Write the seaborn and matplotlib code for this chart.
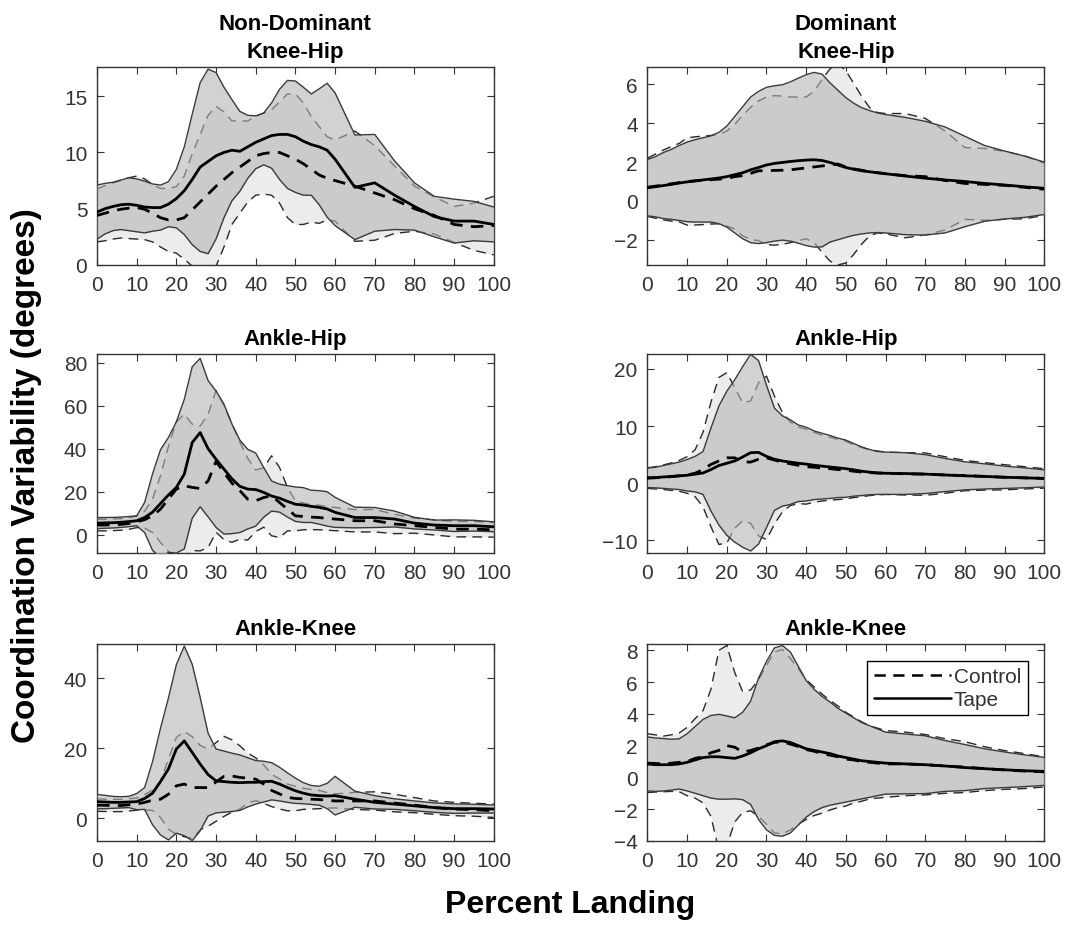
import numpy as np
import matplotlib
matplotlib.use("Agg")
import matplotlib.pyplot as plt
from matplotlib.lines import Line2D
import seaborn as sns

# Percent landing (x)
x_pct = [0, 2, 4, 6, 8, 10, 12, 14, 16, 18, 20, 22, 24, 26, 28, 30, 32, 34, 36, 38,
         40, 42, 44, 46, 48, 50, 52, 54, 56, 58, 60, 65, 70, 75, 80, 85, 90, 95, 100]

# Non-Dominant Knee-Hip
nd_kh_tape_mean = [4.7, 5.0, 5.2, 5.35, 5.4, 5.3, 5.15, 5.1, 5.1, 5.4, 5.9, 6.6, 7.6, 8.7, 9.2, 9.7, 10.0, 10.2, 10.1, 10.5,
                   10.9, 11.2, 11.5, 11.6, 11.6, 11.4, 11.0, 10.7, 10.5, 10.2, 9.4, 6.9, 7.3, 6.2, 5.2, 4.3, 3.9, 3.9, 3.6]
nd_kh_tape_sd = [2.4, 2.25, 2.15, 2.2, 2.35, 2.35, 2.3, 2.1, 2.0, 2.0, 2.6, 3.9, 5.8, 7.5, 8.2, 7.4, 5.8, 4.5, 3.55, 2.8,
                 2.35, 2.3, 2.9, 4.0, 4.8, 4.95, 4.8, 4.5, 5.15, 5.95, 5.9, 4.65, 4.3, 3.05, 2.1, 1.8, 1.95, 1.75, 1.55]
nd_kh_ctrl_mean = [4.4, 4.6, 4.8, 4.95, 5.05, 5.1, 4.95, 4.6, 4.2, 4.0, 4.0, 4.2, 4.9, 5.6, 6.3, 7.0, 7.6, 8.2, 8.7, 9.2,
                   9.7, 9.9, 10.0, 10.0, 9.7, 9.4, 9.0, 8.5, 8.0, 7.7, 7.5, 7.0, 6.4, 5.8, 5.0, 4.4, 3.6, 3.4, 3.5]
nd_kh_ctrl_sd = [2.35, 2.45, 2.5, 2.55, 2.7, 2.8, 2.7, 2.55, 2.6, 2.8, 2.95, 3.7, 5.0, 6.0, 7.0, 7.1, 6.0, 4.6, 4.1, 3.6,
                 3.5, 3.6, 3.8, 4.5, 5.5, 5.8, 5.4, 4.7, 4.3, 3.7, 3.6, 4.9, 4.2, 3.0, 2.0, 1.65, 1.6, 2.1, 2.6]

# Dominant Knee-Hip
d_kh_tape_mean = [0.68, 0.73, 0.79, 0.85, 0.92, 0.98, 1.03, 1.08, 1.13, 1.18, 1.25, 1.35, 1.45, 1.6, 1.72, 1.85, 1.93, 1.98, 2.03, 2.07,
                  2.1, 2.12, 2.08, 1.98, 1.85, 1.72, 1.63, 1.55, 1.5, 1.45, 1.4, 1.28, 1.17, 1.08, 1.0, 0.9, 0.82, 0.73, 0.65]
d_kh_tape_sd = [1.45, 1.55, 1.7, 1.8, 1.93, 2.05, 2.12, 2.17, 2.22, 2.35, 2.6, 3.0, 3.4, 3.75, 3.92, 4.0, 4.0, 4.0, 4.1, 4.25,
                4.4, 4.5, 4.45, 4.1, 3.85, 3.6, 3.4, 3.25, 3.15, 3.08, 3.05, 3.02, 2.93, 2.73, 2.33, 1.95, 1.75, 1.58, 1.35]
d_kh_ctrl_mean = [0.7, 0.76, 0.82, 0.88, 0.94, 1.0, 1.03, 1.06, 1.09, 1.12, 1.15, 1.25, 1.3, 1.42, 1.55, 1.55, 1.57, 1.58, 1.6, 1.65,
                  1.7, 1.75, 1.8, 1.85, 1.9, 1.75, 1.65, 1.58, 1.5, 1.45, 1.4, 1.3, 1.25, 1.05, 0.9, 0.85, 0.8, 0.7, 0.6]
d_kh_ctrl_sd = [1.5, 1.65, 1.8, 1.92, 2.02, 2.25, 2.27, 2.28, 2.28, 2.3, 2.45, 2.7, 3.1, 3.4, 3.6, 3.8, 3.85, 3.82, 3.75, 3.7,
                3.65, 3.9, 4.45, 4.95, 5.2, 4.95, 4.4, 3.8, 3.3, 3.1, 3.1, 3.2, 3.0, 2.55, 1.85, 1.85, 1.75, 1.62, 1.35]

# Non-Dominant Ankle-Hip
nd_ah_tape_mean = [5.4, 5.5, 5.6, 5.8, 6.1, 6.5, 8.0, 10.5, 14.5, 18.5, 22.0, 28.2, 42.9, 47.5, 40.0, 35.1, 30.5, 26.0, 22.5, 21.2,
                   21.0, 19.7, 18.0, 17.0, 15.5, 14.2, 13.8, 13.2, 12.7, 12.0, 10.4, 8.0, 8.0, 7.3, 5.4, 4.5, 4.2, 4.2, 3.7]
nd_ah_tape_sd = [2.55, 2.5, 2.45, 2.4, 2.35, 2.3, 7.0, 17.8, 25.0, 26.7, 30.5, 34.8, 35.2, 34.5, 31.7, 31.7, 30.2, 25.5, 21.5, 18.5,
                 17.0, 11.6, 7.0, 6.5, 7.3, 8.0, 8.1, 7.5, 7.8, 8.0, 7.0, 4.8, 4.65, 3.7, 2.7, 2.3, 2.7, 2.5, 2.3]
nd_ah_ctrl_mean = [4.5, 4.5, 4.6, 4.8, 5.2, 6.0, 7.0, 8.8, 11.9, 16.6, 21.2, 22.8, 22.0, 21.5, 25.0, 34.1, 28.9, 24.0, 20.5, 16.5,
                   15.8, 17.3, 18.1, 15.0, 11.9, 8.8, 8.5, 8.2, 8.0, 7.6, 7.3, 6.5, 6.5, 5.0, 4.2, 3.4, 2.6, 2.6, 2.3]
nd_ah_ctrl_sd = [2.7, 2.7, 2.7, 2.7, 2.7, 2.7, 3.9, 7.8, 15.5, 24.4, 31.3, 33.3, 29.4, 29.0, 31.0, 32.9, 31.2, 27.5, 22.6, 19.0,
                 14.3, 13.8, 18.6, 16.3, 10.1, 7.0, 6.2, 5.8, 5.7, 5.5, 5.4, 5.2, 5.2, 4.5, 3.5, 3.5, 3.6, 3.6, 3.4]

# Dominant Ankle-Hip
d_ah_tape_mean = [0.95, 1.0, 1.1, 1.2, 1.3, 1.4, 1.6, 1.8, 2.4, 3.1, 3.5, 3.9, 4.6, 5.35, 5.4, 4.7, 4.2, 3.9, 3.7, 3.5,
                  3.35, 3.15, 3.0, 2.85, 2.7, 2.55, 2.35, 2.1, 1.95, 1.8, 1.75, 1.7, 1.6, 1.45, 1.3, 1.2, 1.05, 0.95, 0.85]
d_ah_tape_sd = [1.7, 1.8, 2.0, 2.2, 2.4, 2.75, 3.1, 3.75, 7.25, 10.4, 12.6, 14.2, 15.8, 17.2, 16.05, 12.45, 8.95, 7.9, 7.4, 6.7,
                6.45, 6.0, 5.75, 5.5, 5.2, 5.0, 4.6, 4.25, 3.95, 3.75, 3.7, 3.65, 3.4, 2.9, 2.45, 2.2, 1.95, 1.75, 1.5]
d_ah_ctrl_mean = [0.9, 0.95, 1.05, 1.15, 1.3, 1.45, 1.75, 2.4, 3.3, 3.9, 4.45, 4.45, 3.75, 3.7, 4.2, 4.45, 4.05, 3.7, 3.4, 3.15,
                  2.9, 2.8, 2.65, 2.55, 2.4, 2.3, 2.1, 1.95, 1.85, 1.8, 1.75, 1.65, 1.6, 1.45, 1.35, 1.2, 1.05, 0.95, 0.85]
d_ah_ctrl_sd = [1.8, 1.95, 2.15, 2.4, 2.7, 3.2, 4.1, 6.5, 10.9, 14.6, 14.9, 12.3, 10.3, 10.7, 13.4, 14.3, 11.2, 8.7, 7.3, 6.7,
                6.55, 6.1, 5.75, 5.5, 5.25, 5.05, 4.6, 4.3, 4.0, 3.85, 3.7, 3.7, 3.7, 3.2, 2.65, 2.4, 2.2, 1.95, 1.7]

# Non-Dominant Ankle-Knee
nd_ak_tape_mean = [4.8, 4.7, 4.6, 4.6, 4.7, 4.8, 5.7, 7.2, 10.5, 14.1, 19.8, 22.1, 18.8, 15.5, 12.5, 10.7, 10.5, 10.3, 10.2, 10.3,
                   10.3, 10.5, 10.6, 9.8, 8.8, 7.9, 7.2, 6.7, 6.5, 6.4, 6.5, 5.5, 4.6, 4.1, 3.6, 3.1, 2.8, 2.8, 2.7]
nd_ak_tape_sd = [2.05, 1.9, 1.7, 1.6, 1.6, 2.3, 3.1, 9.0, 15.2, 20.2, 24.0, 27.0, 25.1, 19.0, 11.8, 9.1, 8.7, 8.3, 7.9, 7.0,
                 6.2, 5.8, 5.3, 4.8, 4.2, 3.6, 3.0, 2.7, 2.7, 3.6, 5.5, 2.3, 1.9, 1.5, 1.4, 1.35, 1.35, 1.25, 1.15]
nd_ak_ctrl_mean = [3.8, 3.75, 3.7, 3.7, 3.9, 4.1, 4.6, 5.2, 5.5, 6.9, 9.3, 9.8, 8.8, 8.8, 8.8, 10.4, 12.0, 12.1, 11.7, 11.5,
                   11.2, 9.8, 8.0, 7.0, 6.0, 5.7, 5.6, 5.5, 5.4, 5.2, 5.0, 5.0, 5.0, 4.4, 3.8, 3.1, 2.7, 2.5, 2.2]
nd_ak_ctrl_sd = [1.75, 1.75, 1.75, 1.75, 1.75, 1.75, 2.2, 2.9, 5.2, 10.0, 13.8, 15.0, 14.5, 12.0, 11.0, 11.2, 11.4, 10.3, 9.0, 7.1,
                 6.1, 5.5, 4.6, 4.3, 3.8, 3.5, 3.0, 2.8, 2.6, 2.2, 2.0, 2.45, 2.6, 2.5, 2.15, 1.9, 1.9, 1.85, 1.9]

# Dominant Ankle-Knee
d_ak_tape_mean = [0.85, 0.8, 0.8, 0.8, 0.85, 0.95, 1.1, 1.25, 1.3, 1.3, 1.25, 1.2, 1.35, 1.55, 1.8, 2.0, 2.25, 2.3, 2.2, 2.0,
                  1.8, 1.7, 1.6, 1.5, 1.35, 1.25, 1.15, 1.05, 1.0, 0.95, 0.9, 0.85, 0.8, 0.72, 0.62, 0.55, 0.48, 0.42, 0.38]
d_ak_tape_sd = [1.7, 1.68, 1.65, 1.6, 1.58, 1.8, 2.1, 2.4, 2.6, 2.67, 2.62, 2.55, 2.75, 3.25, 4.45, 5.3, 5.9, 6.0, 5.7, 5.0,
                4.3, 3.85, 3.5, 3.25, 3.0, 2.8, 2.6, 2.4, 2.25, 2.1, 1.95, 1.88, 1.82, 1.6, 1.45, 1.25, 1.12, 1.0, 0.88]
d_ak_ctrl_mean = [0.9, 0.88, 0.85, 0.9, 0.95, 1.0, 1.2, 1.3, 1.55, 1.7, 2.0, 1.9, 1.6, 1.7, 1.85, 2.05, 2.2, 2.25, 2.1, 1.95,
                  1.75, 1.65, 1.5, 1.4, 1.3, 1.15, 1.1, 1.0, 0.95, 0.9, 0.85, 0.85, 0.8, 0.72, 0.65, 0.55, 0.47, 0.4, 0.35]
d_ak_ctrl_sd = [1.85, 1.8, 1.75, 1.78, 1.85, 2.15, 2.5, 2.9, 4.0, 6.3, 6.3, 4.7, 3.8, 3.8, 4.3, 5.0, 5.7, 5.8, 5.4, 4.9,
                4.4, 4.05, 3.75, 3.45, 3.2, 2.95, 2.7, 2.5, 2.3, 2.2, 2.1, 2.0, 1.9, 1.72, 1.6, 1.38, 1.22, 1.1, 0.95]

titles = ["Non-Dominant\nKnee-Hip", "Dominant\nKnee-Hip", "Ankle-Hip", "Ankle-Hip", "Ankle-Knee", "Ankle-Knee"]
y_ticks = [[0, 5, 10, 15], [-2, 0, 2, 4, 6], [0, 20, 40, 60, 80],
           [-10, 0, 10, 20], [0, 20, 40], [-4, -2, 0, 2, 4, 6, 8]]
y_lims = [(0, 17.6), (-3.3, 6.9), (-8.5, 84), (-12.2, 22.6), (-6.4, 49.7), (-4, 8.4)]
x_ticks = list(range(0, 101, 10))

panels = [
    (nd_kh_ctrl_mean, nd_kh_ctrl_sd, nd_kh_tape_mean, nd_kh_tape_sd),
    (d_kh_ctrl_mean, d_kh_ctrl_sd, d_kh_tape_mean, d_kh_tape_sd),
    (nd_ah_ctrl_mean, nd_ah_ctrl_sd, nd_ah_tape_mean, nd_ah_tape_sd),
    (d_ah_ctrl_mean, d_ah_ctrl_sd, d_ah_tape_mean, d_ah_tape_sd),
    (nd_ak_ctrl_mean, nd_ak_ctrl_sd, nd_ak_tape_mean, nd_ak_tape_sd),
    (d_ak_ctrl_mean, d_ak_ctrl_sd, d_ak_tape_mean, d_ak_tape_sd),
]

sns.set_style("ticks")
plt.rcParams["font.family"] = ["Liberation Sans", "DejaVu Sans"]

axis_col = "#333333"
ctrl_fill = "#ececec"
tape_fill = "#b5b5b5"
dash_thin = (0, (7, 4.5))
dash_thick = (0, (4.5, 3))

fig = plt.figure(figsize=(10.9, 9.28), dpi=100)

lefts = [0.089, 0.594]
bottoms = [0.7134, 0.403, 0.0927]
heights = [0.2134, 0.2144, 0.2123]
width = 0.364

x = np.array(x_pct)
for i, (c_m, c_sd, t_m, t_sd) in enumerate(panels):
    row, col = divmod(i, 2)
    ax = fig.add_axes([lefts[col], bottoms[row], width, heights[row]])
    c_m, c_sd, t_m, t_sd = map(np.array, (c_m, c_sd, t_m, t_sd))

    # bande control
    ax.fill_between(x, c_m - c_sd, c_m + c_sd, color=ctrl_fill, lw=0, zorder=1)
    sns.lineplot(x=x, y=c_m + c_sd, ax=ax, color="#2a2a2a", lw=1, linestyle=dash_thin, zorder=2)
    sns.lineplot(x=x, y=c_m - c_sd, ax=ax, color="#2a2a2a", lw=1, linestyle=dash_thin, zorder=2)
    # bande tape (semi transparente, par dessus)
    ax.fill_between(x, t_m - t_sd, t_m + t_sd, color=tape_fill, alpha=0.6, lw=0, zorder=3)
    sns.lineplot(x=x, y=t_m + t_sd, ax=ax, color="#3a3a3a", lw=1, zorder=4)
    sns.lineplot(x=x, y=t_m - t_sd, ax=ax, color="#3a3a3a", lw=1, zorder=4)
    # moyennes
    sns.lineplot(x=x, y=c_m, ax=ax, color="black", lw=2, linestyle=dash_thick, zorder=5)
    sns.lineplot(x=x, y=t_m, ax=ax, color="black", lw=2, zorder=6)

    ax.set_xlim(0, 100)
    ax.set_ylim(*y_lims[i])
    ax.set_xticks(x_ticks)
    ax.set_yticks(y_ticks[i])
    ax.set_xlabel("")
    ax.set_ylabel("")
    ax.set_title(titles[i], fontsize=16, fontweight="bold", pad=7,
                 linespacing=1.45, color="black")
    ax.tick_params(direction="in", length=5, width=0.8, top=True, right=True,
                   labelsize=15, labelcolor=axis_col, color=axis_col, pad=7)
    for s in ax.spines.values():
        s.set_color(axis_col)
        s.set_linewidth(1)

    if i == 5:
        handles = [Line2D([], [], color="black", lw=1.8, linestyle=dash_thick),
                   Line2D([], [], color="black", lw=1.8)]
        leg = ax.legend(handles, ["Control", "Tape"], loc="upper right", fontsize=15,
                        handlelength=3.7, handletextpad=0.15, borderpad=0.3,
                        labelspacing=0.2, fancybox=False, framealpha=1,
                        borderaxespad=0.8)
        leg.get_frame().set_edgecolor("black")
        leg.get_frame().set_linewidth(1)
        for t in leg.get_texts():
            t.set_color(axis_col)

fig.text(0.024, 0.488, "Coordination Variability (degrees)", rotation=90,
         ha="center", va="center", fontsize=24, fontweight="bold", color="black")
fig.text(0.523, 0.025, "Percent Landing", ha="center", va="center",
         fontsize=23, fontweight="bold", color="black")

fig.savefig("out.png", dpi=100, facecolor="white")
